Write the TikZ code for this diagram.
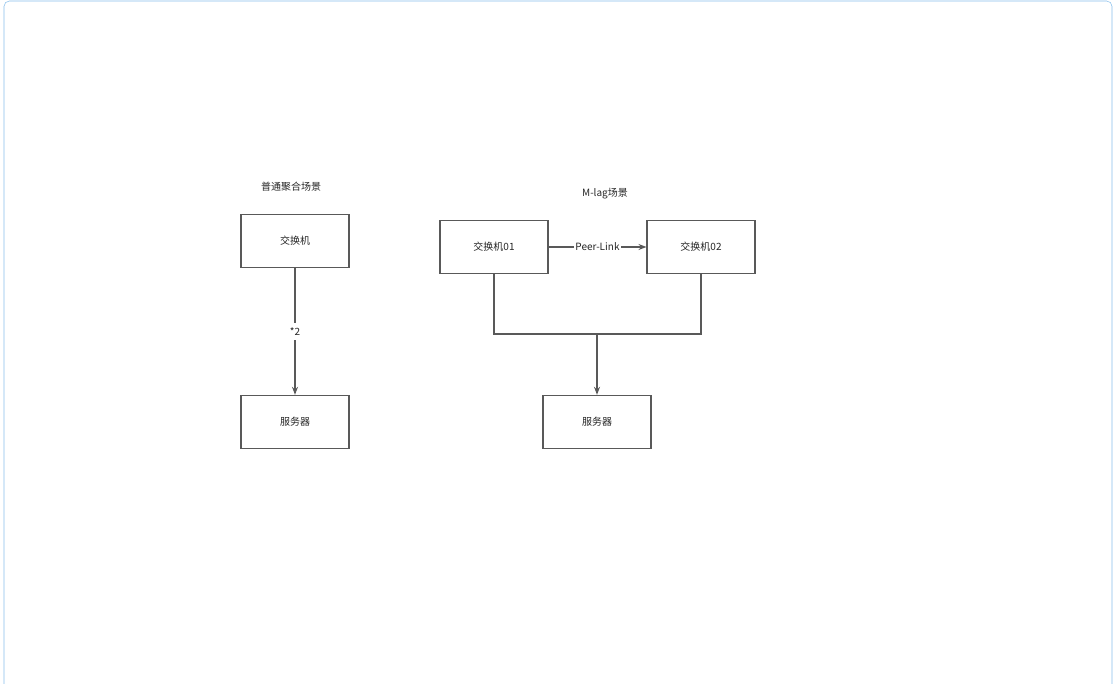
\documentclass[tikz,border=0pt]{standalone}
\usepackage{fontspec}
\setmainfont{Noto Sans CJK SC}
\usetikzlibrary{arrows.meta, positioning}
\definecolor{linecolor}{RGB}{89,89,89}
\definecolor{framecolor}{RGB}{135,190,235}
\tikzset{
    devbox/.style={draw=linecolor, thick, fill=white, minimum width=81pt, minimum height=40pt, font=\fontsize{7.5}{9}\selectfont, text=black!85},
    link/.style={draw=linecolor, thick},
    note/.style={font=\fontsize{7.5}{9}\selectfont, text=black!85}
}
\begin{document}
\begin{tikzpicture}[x=0.75pt, y=-0.75pt]
    \useasboundingbox (0,0) rectangle (1114,684);
    \draw[framecolor, rounded corners=4pt] (4,1) rectangle (1112,700);

    % Link aggregation
    \node[note] (title1) at (291,187) {普通聚合场景};
    \node[devbox] (sw) at (295,241) {交换机};
    \node[devbox] (srv1) at (295,422) {服务器};
    \draw[link, -{Stealth[length=6pt]}] (sw) -- node[fill=white, note] {*2} (srv1);

    % M-lag
    \node[note] (title2) at (605,194) {M-lag场景};
    \node[devbox] (sw01) at (494,247) {交换机01};
    \node[devbox] (sw02) at (701,247) {交换机02};
    \node[devbox] (srv2) at (597,422) {服务器};
    \draw[link, -{Stealth[length=6pt]}] (sw01) -- node[fill=white, note, inner sep=1pt] {Peer-Link} (sw02);
    \coordinate (join) at (597,334);
    \draw[link] (sw01.south) |- (join) -| (sw02.south);
    \draw[link, -{Stealth[length=6pt]}] (join) -- (srv2);
\end{tikzpicture}
\end{document}
